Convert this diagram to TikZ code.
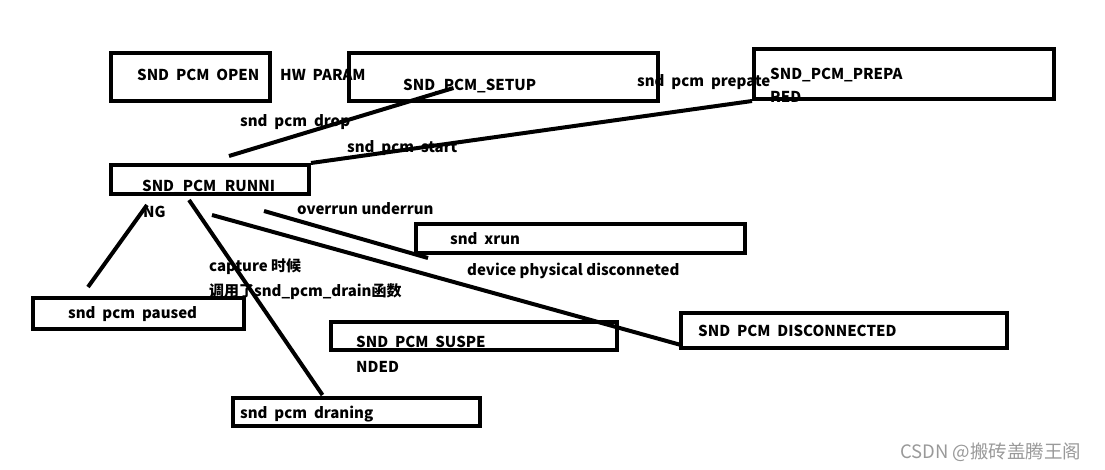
\documentclass[tikz,border=0pt]{standalone}
\usepackage{fontspec}
\setmainfont{Noto Sans CJK SC}
\tikzset{
	state/.style = {draw, line width=4pt, inner sep=0pt},
	lbl/.style = {anchor=base west, inner sep=0pt, font=\bfseries\fontsize{15}{17}\selectfont},
	move/.style = {line width=4pt}
}

\begin{document}
\begin{tikzpicture}[x=1pt,y=-1pt]
	\useasboundingbox (0,0) rectangle (1105,469);
	% texts
	\node[lbl] (t_open) at (137,80) {SND\ \ PCM\ \ OPEN};
	\node[lbl] (t_hw) at (280,80) {HW\ \ PARAM};
	\node[lbl] (t_setup) at (403,90) {SND\_PCM\_SETUP};
	\node[lbl] (t_prepate) at (637,86) {snd\ \ pcm\ \ prepate};
	\node[lbl] (t_prep) at (770,79) {SND\_PCM\_PREPA};
	\node[lbl] (t_red) at (770,102) {RED};
	\node[lbl] (t_drop) at (240,126) {snd\ \ pcm\ \ drop};
	\node[lbl] (t_start) at (347,152) {snd\ \ pcm\ \ start};
	\node[lbl] (t_run) at (142,191) {SND\_PCM\_RUNNI};
	\node[lbl] (t_ng) at (143,217) {NG};
	\node[lbl] (t_over) at (297,214) {overrun underrun};
	\node[lbl] (t_xrun) at (450,244) {snd\ \ xrun};
	\node[lbl] (t_dev) at (467,275) {device physical disconneted};
	\node[lbl] (t_cap) at (209,271) {capture 时候};
	\node[lbl] (t_call) at (209,296) {调用了snd\_pcm\_drain函数};
	\node[lbl] (t_paused) at (68,318) {snd\ \ pcm\ \ paused};
	\node[lbl] (t_susp) at (356,347) {SND\ \ PCM\ \ SUSPE};
	\node[lbl] (t_nded) at (356,372) {NDED};
	\node[lbl] (t_disc) at (698,336) {SND\ \ PCM\ \ DISCONNECTED};
	\node[lbl] (t_drain) at (240,418) {snd\ \ pcm\ \ draning};
	\node[anchor=base west, inner sep=0pt, text=black!40, font=\fontsize{18.5}{20}\selectfont] (mark) at (900,458) {CSDN @搬砖盖腾王阁};

	% states
	\node[state, minimum width=159pt, minimum height=48pt] (open) at (190.5,77) {};
	\node[state, minimum width=309pt, minimum height=48pt] (setup) at (503.5,77) {};
	\node[state, minimum width=300pt, minimum height=50pt] (prepared) at (904,74) {};
	\node[state, minimum width=198pt, minimum height=29pt] (running) at (210,179.5) {};
	\node[state, minimum width=211pt, minimum height=31pt] (paused) at (138.5,313.5) {};
	\node[state, minimum width=329pt, minimum height=29pt] (xrun) at (580.5,238.5) {};
	\node[state, minimum width=286pt, minimum height=28pt] (suspended) at (474,336) {};
	\node[state, minimum width=326pt, minimum height=35pt] (disconnected) at (844,330.5) {};
	\node[state, minimum width=247pt, minimum height=28pt] (draining) at (356.5,412) {};

	% transitions
	\draw[move] ([xshift=19pt,yshift=7pt]running.north) -- ([xshift=-50pt,yshift=-11pt]setup.center);
	\draw[move] (running.north east) -- (prepared.south west);
	\draw[move] ([xshift=57pt,yshift=9pt]paused.north west) -- ([xshift=-63pt,yshift=-9pt]running.south);
	\draw[move] ([xshift=-21pt,yshift=-4pt]running.south) -- ([xshift=-34pt,yshift=1pt]draining.north);
	\draw[move] ([xshift=-47pt,yshift=-15pt]running.south east) -- ([xshift=14pt,yshift=-3pt]xrun.south west);
	\draw[move] ([xshift=2pt,yshift=-19pt]running.south) -- ([xshift=2pt,yshift=5pt]disconnected.south west);
\end{tikzpicture}
\end{document}
